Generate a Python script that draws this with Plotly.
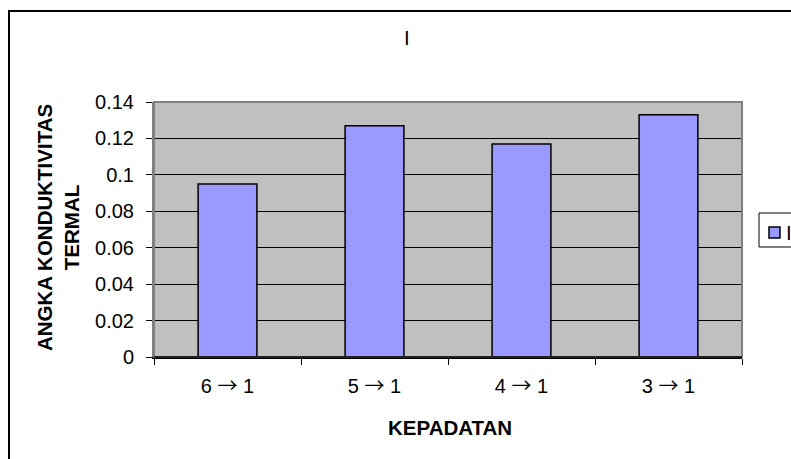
import plotly.graph_objects as go

# Thermal conductivity per density ratio
kepadatan = ["6 → 1", "5 → 1", "4 → 1", "3 → 1"]
konduktivitas = [0.095, 0.127, 0.117, 0.133]
seri = "I"
y_ticks = [0, 0.02, 0.04, 0.06, 0.08, 0.1, 0.12, 0.14]

FONT = "Liberation Sans, Arial, sans-serif"
BAR_COLOR = "#9999FF"
W, H = 791, 459
L, R, T, B = 154, 49, 102, 102
PW, PH = W - L - R, H - T - B


def px_x(x):
    return (x - L) / PW


def px_y(y):
    return (H - B - y) / PH


# wider arrow glyph for the category labels
ARROW = "<span style='font-family:\"Noto Sans CJK JP\"'>→</span>"
x_ticktext = [k.replace("→", ARROW) for k in kepadatan]

fig = go.Figure()
fig.add_trace(go.Bar(
    x=kepadatan,
    y=konduktivitas,
    name=seri,
    marker=dict(color=BAR_COLOR, line=dict(color="black", width=1.5)),
    showlegend=False,
))

fig.update_layout(
    width=W,
    height=H,
    margin=dict(l=L, r=R, t=T, b=B, pad=0, autoexpand=False),
    paper_bgcolor="white",
    plot_bgcolor="#C0C0C0",
    font=dict(family=FONT, size=20, color="black"),
    bargap=0.6,
    xaxis=dict(
        type="category",
        tickvals=kepadatan,
        ticktext=x_ticktext,
        showgrid=False,
        showline=True, linecolor="black", linewidth=1.5,
        ticks="outside", tickson="boundaries", ticklen=6,
        tickcolor="black", tickwidth=1,
        ticklabelstandoff=10,
        tickfont=dict(size=20),
        automargin=False,
    ),
    yaxis=dict(
        range=[0, 0.14],
        tickvals=y_ticks,
        ticktext=[f"{v:g}" for v in y_ticks],
        showgrid=True, gridcolor="black", gridwidth=1,
        showline=True, linecolor="#808080", linewidth=2,
        ticks="outside", ticklen=6, tickcolor="black", tickwidth=1,
        ticklabelstandoff=8,
        tickfont=dict(size=20),
        zeroline=False,
        automargin=False,
    ),
    shapes=[
        # plot area frame
        dict(type="rect", xref="paper", yref="paper", x0=0, x1=1, y0=0, y1=1,
             line=dict(color="#808080", width=2), layer="above"),
        # chart outer frame
        dict(type="rect", xref="paper", yref="paper",
             x0=px_x(9), x1=px_x(815), y0=px_y(475), y1=px_y(11),
             line=dict(color="black", width=2)),
        # legend box and swatch
        dict(type="rect", xref="paper", yref="paper",
             x0=px_x(759), x1=px_x(830), y0=px_y(247), y1=px_y(213),
             line=dict(color="black", width=1), fillcolor="white"),
        dict(type="rect", xref="paper", yref="paper",
             x0=px_x(769), x1=px_x(780), y0=px_y(238), y1=px_y(227),
             line=dict(color="black", width=1.5), fillcolor=BAR_COLOR),
    ],
    annotations=[
        dict(text=seri, xref="paper", yref="paper", x=px_x(407), y=px_y(37),
             xanchor="center", yanchor="middle", showarrow=False,
             font=dict(size=20.5)),
        dict(text="<b>ANGKA KONDUKTIVITAS<br>TERMAL</b>", xref="paper", yref="paper",
             x=px_x(58), y=px_y(228), xanchor="center", yanchor="middle",
             textangle=-90, showarrow=False, font=dict(size=20.5)),
        dict(text="<b>KEPADATAN</b>", xref="paper", yref="paper",
             x=px_x(450), y=px_y(427), xanchor="center", yanchor="middle",
             showarrow=False, font=dict(size=20.5)),
        # legend entry label
        dict(text=seri, xref="paper", yref="paper", x=px_x(785), y=px_y(232),
             xanchor="left", yanchor="middle", showarrow=False,
             font=dict(size=20.5), borderpad=0),
    ],
)

# keep the x-axis line drawn on top of the plot frame at the bottom
fig.add_shape(type="line", xref="paper", yref="paper", x0=0, x1=1, y0=0, y1=0,
              line=dict(color="black", width=1.5), layer="above")

fig.write_html("out.html")
